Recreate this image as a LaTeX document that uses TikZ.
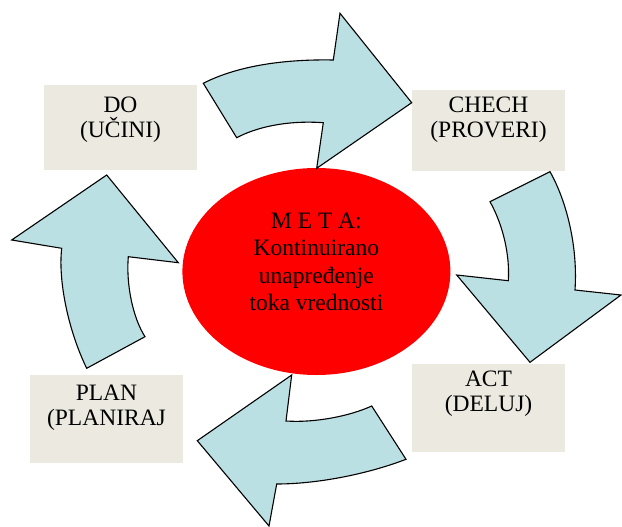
\documentclass[tikz,border=0pt]{standalone}
\usepackage{fontspec}
\setmainfont{Liberation Serif}
\usepackage{xcolor}
\usepackage{tikz}
\usetikzlibrary{positioning, shapes.geometric}
\definecolor{cardgray}{HTML}{ECEAE0}
\definecolor{arrowblue}{HTML}{BBE0E3}
\definecolor{goalred}{HTML}{FF0000}

\tikzset{
    cardbox/.style={fill=cardgray, inner sep=0pt, minimum width=153pt},
    goal/.style={ellipse, fill=goalred, inner sep=0pt,
                 minimum width=268pt, minimum height=207pt},
    bigarrow/.style={fill=arrowblue, draw=black, line width=1.1pt, line join=miter},
}
% text of a card: height of the card, gap above the first line, lines
\newcommand{\cardtext}[3]{\parbox[c][#1][t]{153pt}{\centering
    \fontsize{23.5}{25}\selectfont\vspace*{#2}#3}}

\begin{document}
\begin{tikzpicture}[x=1pt, y=-1pt]
    \useasboundingbox (0,0) rectangle (622,527);

    \node[cardbox] (do) at (120.5,127.5) {\cardtext{85pt}{12pt}{DO\\(UČINI)}};
    \node[cardbox] (check) at (488.5,130.5) {\cardtext{81pt}{7pt}{CHECH\\(PROVERI)}};
    \node[cardbox] (act) at (488.5,408) {\cardtext{88pt}{7pt}{ACT\\(DELUJ)}};
    \node[cardbox] (plan) at (106.5,419) {\cardtext{88pt}{10pt}{PLAN\\(PLANIRAJ}};

    \node[goal] (meta) at (316.4,271.5) {\parbox[c][130pt][t]{160pt}{\centering
        \fontsize{23.5}{27.3}\selectfont\vspace*{6.5pt}%
        M E T A:\\Kontinuirano\\unapređenje\\toka vrednosti}};

    % do -> check
    \draw[bigarrow] (203.3,83.3) -- (236.7,137.7)
        .. controls (255,128) and (285,120) .. (323.3,122.7)
        -- (316.7,168.3) -- (411.7,102.7) -- (340,13.3) -- (333.3,60)
        .. controls (280,59) and (235,67) .. (203.3,83.3) -- cycle;
    % check -> act
    \draw[bigarrow] (550,171.7)
        .. controls (566,200) and (578,245) .. (575,290)
        -- (621,295) -- (530,362.3) -- (456.7,275) -- (508.3,280.7)
        .. controls (510,255) and (503,225) .. (490,201.7) -- cycle;
    % act -> plan
    \draw[bigarrow] (291.7,375) -- (286,421)
        .. controls (315,423) and (350,416) .. (371.7,406)
        -- (406,459.3)
        .. controls (365,475) and (315,484) .. (276.7,484)
        -- (269,526) -- (197.3,440.7) -- cycle;
    % plan -> do
    \draw[bigarrow] (106.7,175) -- (178.3,262.7) -- (128.3,256.7)
        .. controls (126,285) and (133,318) .. (145,336.7)
        -- (86.7,368.3)
        .. controls (68,330) and (58,280) .. (61.7,248.3)
        -- (11.7,240) -- cycle;
\end{tikzpicture}
\end{document}
